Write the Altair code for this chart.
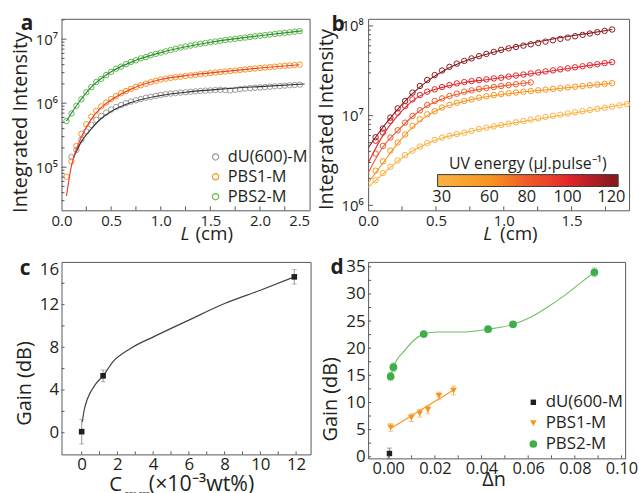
import altair as alt
import pandas as pd

FONT = "Open Sans"
TXT = "#231f20"
FRAME = "#58595b"

# ---------------- panel a data ----------------
a_L = [0.05, 0.10, 0.15, 0.20, 0.25, 0.30, 0.35, 0.40, 0.45, 0.50, 0.55, 0.60,
       0.65, 0.70, 0.75, 0.80, 0.85, 0.90, 0.95, 1.00, 1.05, 1.10, 1.15, 1.20,
       1.25, 1.30, 1.35, 1.40, 1.45, 1.50, 1.55, 1.60, 1.65, 1.70, 1.75, 1.80,
       1.85, 1.90, 1.95, 2.00, 2.05, 2.10, 2.15, 2.20, 2.25, 2.30, 2.35, 2.40]
a_pbs2 = [5.25e5, 6.92e5, 9.12e5, 1.15e6, 1.48e6, 1.78e6, 2.14e6, 2.40e6, 2.75e6, 3.09e6,
          3.47e6, 3.72e6, 4.07e6, 4.42e6, 4.68e6, 5.01e6, 5.25e6, 5.62e6, 5.89e6, 6.17e6,
          6.46e6, 6.76e6, 7.08e6, 7.41e6, 7.67e6, 7.94e6, 8.22e6, 8.47e6, 8.71e6, 8.95e6,
          9.18e6, 9.42e6, 9.66e6, 9.89e6, 1.012e7, 1.035e7, 1.059e7, 1.084e7, 1.109e7,
          1.132e7, 1.156e7, 1.180e7, 1.205e7, 1.230e7, 1.256e7, 1.282e7, 1.309e7, 1.337e7]
a_pbs1 = [7.08e4, 1.23e5, 2.14e5, 3.31e5, 4.68e5, 6.17e5, 7.59e5, 8.91e5, 1.023e6, 1.161e6,
          1.288e6, 1.429e6, 1.549e6, 1.679e6, 1.799e6, 1.905e6, 2.018e6, 2.128e6, 2.239e6,
          2.344e6, 2.415e6, 2.483e6, 2.541e6, 2.594e6, 2.655e6, 2.716e6, 2.773e6, 2.831e6,
          2.891e6, 2.951e6, 3.013e6, 3.069e6, 3.126e6, 3.184e6, 3.243e6, 3.304e6, 3.365e6,
          3.428e6, 3.483e6, 3.540e6, 3.597e6, 3.656e6, 3.715e6, 3.776e6, 3.828e6, 3.882e6,
          3.936e6, 3.990e6]
a_du_L = a_L[1:]
a_du = [1.445e5, 1.862e5, 2.692e5, 3.631e5, 4.571e5, 5.495e5, 6.310e5, 7.16e5, 7.943e5,
        8.71e5, 9.333e5, 1.0e6, 1.059e6, 1.109e6, 1.161e6, 1.216e6, 1.259e6, 1.303e6,
        1.349e6, 1.380e6, 1.413e6, 1.439e6, 1.462e6, 1.486e6, 1.507e6, 1.531e6, 1.549e6,
        1.570e6, 1.585e6, 1.603e6, 1.622e6, 1.603e6, 1.585e6, 1.622e6, 1.660e6, 1.690e6,
        1.718e6, 1.738e6, 1.762e6, 1.786e6, 1.811e6, 1.832e6, 1.854e6, 1.879e6, 1.905e6,
        1.928e6, 1.950e6]
# fitted curves
a_fit_du_L = [0.12, 0.2, 0.3, 0.4, 0.5, 0.7, 1.0, 1.3, 1.6, 2.0, 2.45]
a_fit_du = [1.41e5, 2.51e5, 3.98e5, 5.75e5, 7.41e5, 1.023e6, 1.318e6, 1.514e6, 1.660e6, 1.820e6, 1.995e6]
a_fit_p1_L = [0.05, 0.1, 0.15, 0.2, 0.3, 0.4, 0.5, 0.7, 1.0, 1.3, 1.6, 2.0, 2.4]
a_fit_p1 = [3.55e4, 1.047e5, 1.905e5, 2.951e5, 5.623e5, 8.511e5, 1.122e6, 1.660e6, 2.344e6,
            2.754e6, 3.090e6, 3.548e6, 3.981e6]
a_fit_p2_L = [0.05, 0.15, 0.3, 0.5, 0.75, 1.0, 1.5, 2.0, 2.42]
a_fit_p2 = [5.25e5, 9.12e5, 1.778e6, 3.09e6, 4.68e6, 6.17e6, 8.95e6, 1.132e7, 1.349e7]
a_series = ["dU(600)-M", "PBS1-M", "PBS2-M"]
a_pt_colors = ["#9d9a9a", "#f7941d", "#5cb947"]
a_line_colors = ["#333333", "#ef4136", "#2f8a3a"]

# ---------------- panel b data ----------------
b_L = [0.055, 0.109, 0.164, 0.218, 0.273, 0.327, 0.382, 0.436, 0.491, 0.545, 0.600, 0.654,
       0.709, 0.763, 0.818, 0.872, 0.927, 0.981, 1.036, 1.090, 1.145, 1.199, 1.254, 1.308,
       1.363, 1.417, 1.472, 1.526, 1.581, 1.635, 1.690, 1.744, 1.799, 1.853, 1.908]
b_energies = [120, 100, 80, 60, 30]
b_vals = {
    120: [5.75e6, 7.18e6, 9.51e6, 1.205e7, 1.455e7, 1.803e7, 2.138e7, 2.495e7, 2.831e7, 3.184e7,
          3.499e7, 3.802e7, 4.074e7, 4.345e7, 4.603e7, 4.875e7, 5.140e7, 5.408e7, 5.623e7,
          5.821e7, 6.026e7, 6.237e7, 6.457e7, 6.683e7, 6.918e7, 7.161e7, 7.413e7, 7.674e7,
          7.943e7, 8.222e7, 8.511e7, 8.810e7, 9.120e7],
    100: [5.25e6, 6.47e6, 8.71e6, 1.079e7, 1.279e7, 1.517e7, 1.698e7, 1.849e7, 1.963e7, 2.084e7,
          2.193e7, 2.286e7, 2.366e7, 2.427e7, 2.489e7, 2.535e7, 2.600e7, 2.642e7, 2.723e7,
          2.799e7, 2.871e7, 2.951e7, 3.027e7, 3.112e7, 3.192e7, 3.281e7, 3.365e7, 3.459e7,
          3.548e7, 3.648e7, 3.741e7, 3.846e7, 3.945e7],
    80: [3.78e6, 4.60e6, 5.70e6, 6.87e6, 8.36e6, 9.93e6, 1.146e7, 1.315e7, 1.455e7, 1.556e7,
         1.656e7, 1.754e7, 1.849e7, 1.910e7, 1.982e7, 2.032e7, 2.084e7, 2.138e7, 2.188e7,
         2.239e7, 2.291e7, 2.344e7],
    60: [2.432e6, 3.090e6, 4.074e6, 5.012e6, 6.166e6, 7.691e6, 9.120e6, 1.035e7, 1.122e7,
         1.230e7, 1.318e7, 1.393e7, 1.455e7, 1.514e7, 1.585e7, 1.641e7, 1.698e7, 1.738e7,
         1.778e7, 1.811e7, 1.845e7, 1.879e7, 1.914e7, 1.950e7, 1.986e7, 2.023e7, 2.061e7,
         2.099e7, 2.138e7, 2.178e7, 2.218e7, 2.259e7, 2.301e7],
    30: [1.905e6, 2.291e6, 2.692e6, 3.162e6, 3.631e6, 4.074e6, 4.519e6, 4.955e6, 5.370e6,
         5.689e6, 5.957e6, 6.237e6, 6.457e6, 6.761e6, 7.079e6, 7.328e6, 7.586e6, 7.852e6,
         8.128e6, 8.414e6, 8.710e6, 9.016e6, 9.333e6, 9.661e6, 9.954e6, 1.023e7, 1.059e7,
         1.091e7, 1.122e7, 1.156e7, 1.189e7, 1.225e7, 1.259e7, 1.303e7, 1.343e7],
}
b_fit_L = {
    120: [0, 0.109, 0.218, 0.327, 0.436, 0.545, 0.709, 0.872, 1.09, 1.363, 1.635, 1.80],
    100: [0, 0.109, 0.218, 0.327, 0.436, 0.545, 0.709, 0.872, 1.09, 1.363, 1.635, 1.80],
    80: [0, 0.109, 0.218, 0.327, 0.436, 0.545, 0.709, 0.872, 1.036, 1.199],
    60: [0, 0.109, 0.218, 0.327, 0.436, 0.545, 0.709, 0.872, 1.09, 1.363, 1.635, 1.80],
    30: [0, 0.109, 0.218, 0.327, 0.436, 0.545, 0.709, 0.872, 1.09, 1.363, 1.635, 1.924],
}
b_fit = {
    120: [4.365e6, 7.413e6, 1.175e7, 1.758e7, 2.427e7, 3.090e7, 4.027e7, 4.842e7, 5.888e7, 7.161e7, 8.318e7, 9.120e7],
    100: [2.951e6, 6.026e6, 1.0e7, 1.462e7, 1.828e7, 2.065e7, 2.344e7, 2.512e7, 2.786e7, 3.162e7, 3.631e7, 3.945e7],
    80: [2.291e6, 4.467e6, 6.761e6, 9.772e6, 1.288e7, 1.531e7, 1.820e7, 2.018e7, 2.188e7, 2.344e7],
    60: [1.778e6, 2.951e6, 4.898e6, 7.413e6, 1.0e7, 1.216e7, 1.445e7, 1.622e7, 1.799e7, 1.972e7, 2.163e7, 2.291e7],
    30: [1.585e6, 2.239e6, 3.090e6, 4.027e6, 4.898e6, 5.623e6, 6.457e6, 7.278e6, 8.356e6, 9.772e6, 1.148e7, 1.365e7],
}
b_color_labels = [30, 60, 80, 100, 120]
# colour bar: a small margin at each end keeps the end labels centred on 30 and 120
b_color_domain = [27, 30, 60, 80, 100, 120, 123]
b_color_range = ["#fbb040", "#fbb040", "#f7941d", "#f15a29", "#e3262b", "#8b1a1e", "#8b1a1e"]

# ---------------- panel c data ----------------
c_conc = [0.0, 1.2, 11.9]
c_gain = [0.1, 5.33, 14.6]
c_err = [1.15, 0.55, 0.68]
c_fit_x = [0.03, 0.15, 0.33, 0.8, 1.2, 1.72, 2.74, 4.04, 6.0, 8.0, 10.0, 11.9]
c_fit_y = [1.0, 2.2, 3.2, 4.6, 5.33, 6.6, 7.9, 9.0, 10.55, 12.1, 13.35, 14.6]

# ---------------- panel d data ----------------
d_series = ["dU(600-M", "PBS1-M", "PBS2-M"]
d_du_x = [0.0005]
d_du_y = [0.6]
d_du_e = [1.0]
d_p1_x = [0.0010, 0.0099, 0.0135, 0.0170, 0.0217, 0.0280]
d_p1_y = [5.4, 7.2, 8.0, 8.7, 11.2, 12.2]
d_p1_e = [0.7, 0.7, 0.7, 0.7, 0.7, 0.8]
d_p2_x = [0.0010, 0.0022, 0.0152, 0.0428, 0.0535, 0.0884]
d_p2_y = [14.8, 16.5, 22.6, 23.5, 24.4, 34.0]
d_p2_e = [0.8, 0.8, 0.5, 0.5, 0.5, 0.8]
d_fit_p1_x = [0.001, 0.028]
d_fit_p1_y = [5.2, 12.3]
d_fit_p2_x = [0.001, 0.0022, 0.0071, 0.0114, 0.0152, 0.021, 0.0326, 0.0428, 0.0535, 0.061, 0.068, 0.0752, 0.0823, 0.0884]
d_fit_p2_y = [14.8, 16.5, 19.6, 21.6, 22.6, 23.0, 23.0, 23.5, 24.4, 25.7, 27.5, 29.6, 32.0, 34.0]
d_colors = ["#231f20", "#f7941d", "#3fae49"]
d_err_colors = ["#808285", "#f7a84a", "#8fd18a"]

# ---------------- tick positions ----------------
a_xt = [0.25, 0.5, 0.75, 1.0, 1.25, 1.5, 1.75, 2.0, 2.25]
a_yt_major = [1e5, 1e6, 1e7]
a_yt_minor = [3e4, 4e4, 5e4, 6e4, 7e4, 8e4, 9e4, 2e5, 3e5, 4e5, 5e5, 6e5, 7e5, 8e5, 9e5,
              2e6, 3e6, 4e6, 5e6, 6e6, 7e6, 8e6, 9e6, 2e7]
b_xt = [0.25, 0.5, 0.75, 1.0, 1.25, 1.5, 1.75]
b_yt_major = [1e6, 1e7, 1e8]
b_yt_minor = [2e6, 3e6, 4e6, 5e6, 6e6, 7e6, 8e6, 9e6, 2e7, 3e7, 4e7, 5e7, 6e7, 7e7, 8e7, 9e7]
c_xt = [0, 1, 2, 3, 4, 5, 6, 7, 8, 9, 10, 11, 12]
c_yt = [0, 2, 4, 6, 8, 10, 12, 14]
d_xt = [0.0, 0.01, 0.02, 0.03, 0.04, 0.05, 0.06, 0.07, 0.08, 0.09, 0.10]
d_yt = [0, 2.5, 5, 7.5, 10, 12.5, 15, 17.5, 20, 22.5, 25, 27.5, 30, 32.5, 35]


# ---------------- helpers ----------------
def xaxis(values, **kw):
    return alt.Axis(values=values, title=None, labels=True, ticks=False, domain=False, grid=False,
                    labelFlush=False, labelOverlap=False, labelFont=FONT, labelColor=TXT, **kw)


def yaxis(values, title, tx, ty, **kw):
    return alt.Axis(values=values, title=title, titleX=tx, titleY=ty, titleAngle=270,
                    titleAlign="center", titleBaseline="middle", titleFontSize=20,
                    titleFontWeight="normal", titleFont=FONT, titleColor=TXT,
                    labels=True, ticks=False, domain=False, grid=False, labelFlush=False,
                    labelOverlap=False, labelFont=FONT, labelColor=TXT, **kw)


def xticks(vals, scale, axis, h, length):
    return alt.Chart(pd.DataFrame({"v": vals})).mark_rule(color=FRAME, strokeWidth=1).encode(
        x=alt.X("v:Q", scale=scale, axis=axis), y=alt.value(h), y2=alt.value(h - length))


def yticks(vals, scale, axis, length):
    return alt.Chart(pd.DataFrame({"v": vals})).mark_rule(color=FRAME, strokeWidth=1).encode(
        y=alt.Y("v:Q", scale=scale, axis=axis), x=alt.value(0), x2=alt.value(length))


def label(t, x, y, size=20, weight="normal", style="normal", align="left"):
    return alt.Chart(pd.DataFrame({"t": [t]})).mark_text(
        font=FONT, fontSize=size, fontWeight=weight, fontStyle=style, align=align,
        baseline="alphabetic", color=TXT).encode(x=alt.value(x), y=alt.value(y), text="t:N")


def errbars(xs, ys, es, color, sx, sy, ax, ay):
    df = pd.DataFrame({"x": xs, "lo": [y - e for y, e in zip(ys, es)], "hi": [y + e for y, e in zip(ys, es)]})
    base = alt.Chart(df)
    r = base.mark_rule(color=color, strokeWidth=1).encode(
        x=alt.X("x:Q", scale=sx, axis=ax), y=alt.Y("lo:Q", scale=sy, axis=ay), y2="hi:Q")
    t1 = base.mark_tick(color=color, orient="horizontal", size=5, thickness=1).encode(
        x=alt.X("x:Q", scale=sx, axis=ax), y=alt.Y("lo:Q", scale=sy, axis=ay))
    t2 = base.mark_tick(color=color, orient="horizontal", size=5, thickness=1).encode(
        x=alt.X("x:Q", scale=sx, axis=ax), y=alt.Y("hi:Q", scale=sy, axis=ay))
    return [r, t1, t2]


# ---------------- panel a ----------------
WA, HA = 250, 193
xa = alt.Scale(domain=[0, 2.5], nice=False, zero=False)
ya = alt.Scale(type="log", domain=[2.12e4, 2.08e7], nice=False)
axa = xaxis([0, 0.5, 1.0, 1.5, 2.0, 2.5], format=".1f", labelPadding=3, labelFontSize=15,
            labelAlign={"condition": {"test": "datum.value >= 2.5", "value": "right"}, "value": "center"})
aya = yaxis(a_yt_major, "Integrated Intensity", -41, 104, labelPadding=4, labelFontSize=15,
            labelExpr="datum.value >= 5e6 ? '10⁷' : datum.value >= 5e5 ? '10⁶' : '10⁵'")

df_a = pd.concat([
    pd.DataFrame({"L": a_du_L, "I": a_du, "s": a_series[0]}),
    pd.DataFrame({"L": a_L, "I": a_pbs1, "s": a_series[1]}),
    pd.DataFrame({"L": a_L, "I": a_pbs2, "s": a_series[2]}),
])
df_a_fit = pd.concat([
    pd.DataFrame({"L": a_fit_du_L, "I": a_fit_du, "s": a_series[0]}),
    pd.DataFrame({"L": a_fit_p1_L, "I": a_fit_p1, "s": a_series[1]}),
    pd.DataFrame({"L": a_fit_p2_L, "I": a_fit_p2, "s": a_series[2]}),
])

pts_a = alt.Chart(df_a).mark_point(filled=False, size=30, strokeWidth=1, opacity=1).encode(
    x=alt.X("L:Q", scale=xa, axis=axa),
    y=alt.Y("I:Q", scale=ya, axis=aya),
    color=alt.Color("s:N", scale=alt.Scale(domain=a_series, range=a_pt_colors), legend=alt.Legend(
        orient="none", legendX=147, legendY=131, title=None, labelFontSize=16.5, labelFont=FONT,
        labelColor=TXT, symbolSize=40, symbolStrokeWidth=1.2, symbolType="circle",
        rowPadding=3, labelOffset=4, padding=0)),
)
lines_a = alt.Chart(df_a_fit).mark_line(strokeWidth=1.2, interpolate="monotone", clip=True).encode(
    x=alt.X("L:Q", scale=xa, axis=axa),
    y=alt.Y("I:Q", scale=ya, axis=aya),
    stroke=alt.Stroke("s:N", scale=alt.Scale(domain=a_series, range=a_line_colors), legend=None),
)
panel_a = alt.layer(
    pts_a, lines_a,
    xticks(a_xt, xa, axa, HA, 4),
    yticks(a_yt_major, ya, aya, 5), yticks(a_yt_minor, ya, aya, 3),
    label("a", -41, 11, size=21, weight="bold"),
    label("L", 120, 223, size=19, style="italic"),
    label("(cm)", 135, 223, size=19),
).properties(width=WA, height=HA)

# ---------------- panel b ----------------
WB, HB = 263, 193
xb = alt.Scale(domain=[0, 1.924], nice=False, zero=False)
yb = alt.Scale(type="log", domain=[8.8e5, 1.2e8], nice=False)
cb = alt.Scale(type="pow", exponent=1.35, domain=b_color_domain, range=b_color_range)
axb = xaxis([0, 0.5, 1.0, 1.5], format=".1f", labelPadding=3, labelFontSize=15)
ayb = yaxis(b_yt_major, "Integrated Intensity", -41.5, 101, labelPadding=5, labelFontSize=15,
            labelExpr="datum.value >= 5e7 ? '10⁸' : datum.value >= 5e6 ? '10⁷' : '10⁶'")

df_b = pd.concat([pd.DataFrame({"L": b_L[:len(b_vals[e])], "I": b_vals[e], "E": e}) for e in b_energies])
df_b_fit = pd.concat([pd.DataFrame({"L": b_fit_L[e], "I": b_fit[e], "E": e}) for e in b_energies])

pts_b = alt.Chart(df_b).mark_point(filled=False, size=30, strokeWidth=1, opacity=1).encode(
    x=alt.X("L:Q", scale=xb, axis=axb),
    y=alt.Y("I:Q", scale=yb, axis=ayb),
    color=alt.Color("E:Q", scale=cb, legend=alt.Legend(
        orient="none", direction="horizontal", legendX=70, legendY=138,
        title="UV energy (μJ.pulse⁻¹)", titleFontSize=16, titleFontWeight="normal", titleFont=FONT,
        titleColor=TXT, titleAnchor="middle", titlePadding=3,
        gradientLength=182, gradientThickness=12, gradientStrokeColor="#3a3a3a",
        gradientStrokeWidth=1, values=b_color_labels, labelFontSize=16.5, labelFont=FONT,
        labelColor=TXT, labelOffset=3, padding=0)),
)
lines_b = alt.Chart(df_b_fit).mark_line(strokeWidth=1.1, interpolate="monotone", clip=True).encode(
    x=alt.X("L:Q", scale=xb, axis=axb),
    y=alt.Y("I:Q", scale=yb, axis=ayb),
    color=alt.Color("E:Q", scale=cb, legend=None),
    detail="E:N",
)
panel_b = alt.layer(
    pts_b, lines_b,
    xticks(b_xt, xb, axb, HB, 4),
    yticks(b_yt_major, yb, ayb, 5), yticks(b_yt_minor, yb, ayb, 3),
    label("b", -37, 12, size=21, weight="bold"),
    label("L", 116, 223, size=19, style="italic"),
    label("(cm)", 133, 223, size=19),
).properties(width=WB, height=HB)

# ---------------- panel c ----------------
WC, HC = 251, 194
xc = alt.Scale(domain=[-1.128, 12.81], nice=False, zero=False)
yc = alt.Scale(domain=[-2.03, 16], nice=False, zero=False)
axc = xaxis([0, 2, 4, 6, 8, 10, 12], labelFontSize=17, labelPadding=2)
ayc = yaxis([0, 4, 8, 12, 16], "Gain (dB)", -37.5, 122, labelFontSize=17, labelPadding=3,
            labelBaseline={"condition": {"test": "datum.value >= 16", "value": "top"}, "value": "middle"})
df_c = pd.DataFrame({"x": c_conc, "y": c_gain})
df_c_fit = pd.DataFrame({"x": c_fit_x, "y": c_fit_y})

line_c = alt.Chart(df_c_fit).mark_line(color="#414042", strokeWidth=1.2, interpolate="monotone").encode(
    x=alt.X("x:Q", scale=xc, axis=axc),
    y=alt.Y("y:Q", scale=yc, axis=ayc),
)
pts_c = alt.Chart(df_c).mark_square(size=32, color="#231f20", opacity=1).encode(
    x=alt.X("x:Q", scale=xc, axis=axc), y=alt.Y("y:Q", scale=yc, axis=ayc))
panel_c = alt.layer(
    line_c, *errbars(c_conc, c_gain, c_err, "#939598", xc, yc, axc, ayc), pts_c,
    xticks(c_xt, xc, axc, HC, 3),
    yticks(c_yt, yc, ayc, 3),
    label("c", -42, 13, size=21, weight="bold"),
    label("C", 48, 231, size=20.5),
    label("PBS-PEP", 64, 237, size=6.5),
    label("(×10⁻³wt%)", 88, 231, size=21.5),
).properties(width=WC, height=HC)

# ---------------- panel d ----------------
WD, HD = 259, 198
xd = alt.Scale(domain=[-0.00864, 0.10157], nice=False, zero=False)
yd = alt.Scale(domain=[-0.3, 35.9], nice=False, zero=False)
axd = xaxis([0, 0.02, 0.04, 0.06, 0.08, 0.10], format=".2f", labelFontSize=16.5, labelPadding=2)
ayd = yaxis([0, 5, 10, 15, 20, 25, 30, 35], "Gain (dB)", -37.5, 138, labelFontSize=17, labelPadding=3)
df_d = pd.concat([
    pd.DataFrame({"x": d_du_x, "y": d_du_y, "s": d_series[0]}),
    pd.DataFrame({"x": d_p1_x, "y": d_p1_y, "s": d_series[1]}),
    pd.DataFrame({"x": d_p2_x, "y": d_p2_y, "s": d_series[2]}),
])
df_d_fit = pd.concat([
    pd.DataFrame({"x": d_fit_p1_x, "y": d_fit_p1_y, "s": d_series[1]}),
    pd.DataFrame({"x": d_fit_p2_x, "y": d_fit_p2_y, "s": d_series[2]}),
])
line_d = alt.Chart(df_d_fit).mark_line(strokeWidth=1.1, interpolate="monotone").encode(
    x=alt.X("x:Q", scale=xd, axis=axd),
    y=alt.Y("y:Q", scale=yd, axis=ayd),
    stroke=alt.Stroke("s:N", scale=alt.Scale(domain=d_series[1:], range=["#f7941d", "#6cbf5f"]), legend=None),
)
leg_d = alt.Legend(orient="none", legendX=158, legendY=133, title=None, labelFontSize=17,
                   labelFont=FONT, labelColor=TXT, symbolSize=50, rowPadding=3, labelOffset=4, padding=0)
pts_d = alt.Chart(df_d).mark_point(filled=True, opacity=1).encode(
    x=alt.X("x:Q", scale=xd, axis=axd), y=alt.Y("y:Q", scale=yd, axis=ayd),
    color=alt.Color("s:N", scale=alt.Scale(domain=d_series, range=d_colors), legend=leg_d),
    shape=alt.Shape("s:N", scale=alt.Scale(domain=d_series, range=["square", "triangle-down", "circle"]), legend=leg_d),
    size=alt.Size("s:N", scale=alt.Scale(domain=d_series, range=[30, 60, 55]), legend=None),
)
panel_d = alt.layer(
    line_d,
    *errbars(d_du_x, d_du_y, d_du_e, d_err_colors[0], xd, yd, axd, ayd),
    *errbars(d_p1_x, d_p1_y, d_p1_e, d_err_colors[1], xd, yd, axd, ayd),
    *errbars(d_p2_x, d_p2_y, d_p2_e, d_err_colors[2], xd, yd, axd, ayd),
    pts_d,
    xticks(d_xt, xd, axd, HD, 3),
    yticks(d_yt, yd, ayd, 3),
    label("d", -38, 12, size=21, weight="bold"),
    label("Δn", 115, 226, size=20),
).properties(width=WD, height=HD)

chart = alt.concat(
    panel_a, panel_b, panel_c, panel_d,
    columns=2, spacing={"row": 52, "column": 58}, bounds="flush",
).resolve_scale(
    color="independent", stroke="independent", shape="independent", size="independent"
).resolve_legend(
    color="independent", stroke="independent", shape="independent", size="independent"
).properties(
    padding={"left": 10, "top": 10, "right": 0, "bottom": 0}
).configure(font=FONT, background="white").configure_view(
    stroke=FRAME, strokeWidth=1
)

chart.save("out.html", embed_options={"renderer": "svg", "actions": False})
